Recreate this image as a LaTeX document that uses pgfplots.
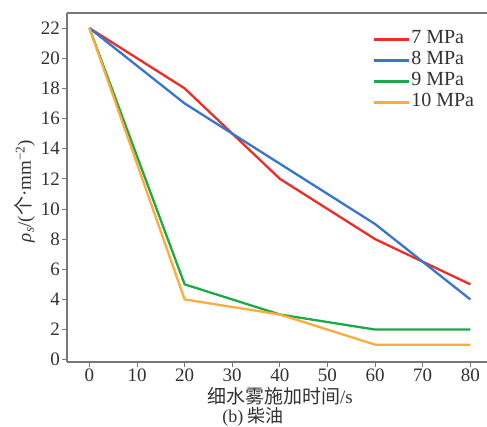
\documentclass[border=0pt]{standalone}
\usepackage{fontspec}
\setmainfont{Liberation Serif}
\newfontfamily\cjk{Noto Sans CJK SC}
\usepackage{pgfplots}
\pgfplotsset{compat=1.18}
\definecolor{cred}{RGB}{238,45,40}
\definecolor{cblue}{RGB}{55,118,200}
\definecolor{cgreen}{RGB}{30,168,72}
\definecolor{corange}{RGB}{252,172,58}
\definecolor{axgray}{RGB}{120,120,120}
\definecolor{txt}{RGB}{50,50,50}
\begin{document}
\begin{tikzpicture}
\begin{axis}[
  scale only axis, width=420pt, height=349pt,
  xmin=-4.7, xmax=83.5, ymin=-0.15, ymax=23,
  axis lines*=left,
  axis line style={axgray, line width=1.2pt},
  tick align=outside, major tick length=5pt,
  tick style={axgray, line width=0.9pt},
  xtick={0,10,...,80}, ytick={0,2,...,22},
  /pgf/number format/assume math mode=true,
  tick label style={font=\fontsize{19}{22}\selectfont, text=txt},
  xticklabel style={inner sep=1pt, yshift=-1pt},
  yticklabel style={inner sep=2pt},
  label style={font=\fontsize{19}{22}\selectfont, text=txt},
  xlabel={{\cjk 细水雾施加时间}/s},
  ylabel={{\itshape ρ\textsubscript{s}}/({\cjk 个}·mm\textsuperscript{−2})},
  xlabel style={at={(axis description cs:0.507,-0.098)}, anchor=center},
  ylabel style={at={(axis description cs:-0.1,0.49)}, anchor=center, rotate=0},
  clip=false,
  legend style={at={(0.727,0.955)}, anchor=north west, draw=none, fill=none,
    text=txt, row sep=0pt, inner sep=0pt,
    nodes={inner sep=1.5pt, font=\fontsize{20}{23}\selectfont, text height=13.5pt, text depth=4.5pt}},
  legend cell align=left,
  every axis plot/.append style={line width=2.3pt},
  legend image code/.code={\draw[#1] (0pt,0pt) -- (35pt,0pt);},
]
\addplot[cred] coordinates {(0,22) (20,18) (40,12) (60,8) (80,5)};
\addlegendentry{7 MPa}
\addplot[cblue] coordinates {(0,22) (20,17) (40,13) (60,9) (80,4)};
\addlegendentry{8 MPa}
\addplot[cgreen] coordinates {(0,22) (20,5) (40,3) (60,2) (80,2)};
\addlegendentry{9 MPa}
\addplot[corange] coordinates {(0,22) (20,4) (40,3) (60,1) (80,1)};
\addlegendentry{10 MPa}
\draw[axgray, line width=1.2pt] (rel axis cs:0,1) -- (rel axis cs:1,1);
\node[font=\fontsize{18}{21}\selectfont, text=txt, anchor=center] at (axis description cs:0.443,-0.158) {(b) {\cjk 柴油}};
\coordinate (O) at (rel axis cs:0,0);
\end{axis}
\pgfresetboundingbox
\path ([shift={(-67pt,-65pt)}]O) rectangle ([shift={(420pt,362pt)}]O);
\end{tikzpicture}
\end{document}
